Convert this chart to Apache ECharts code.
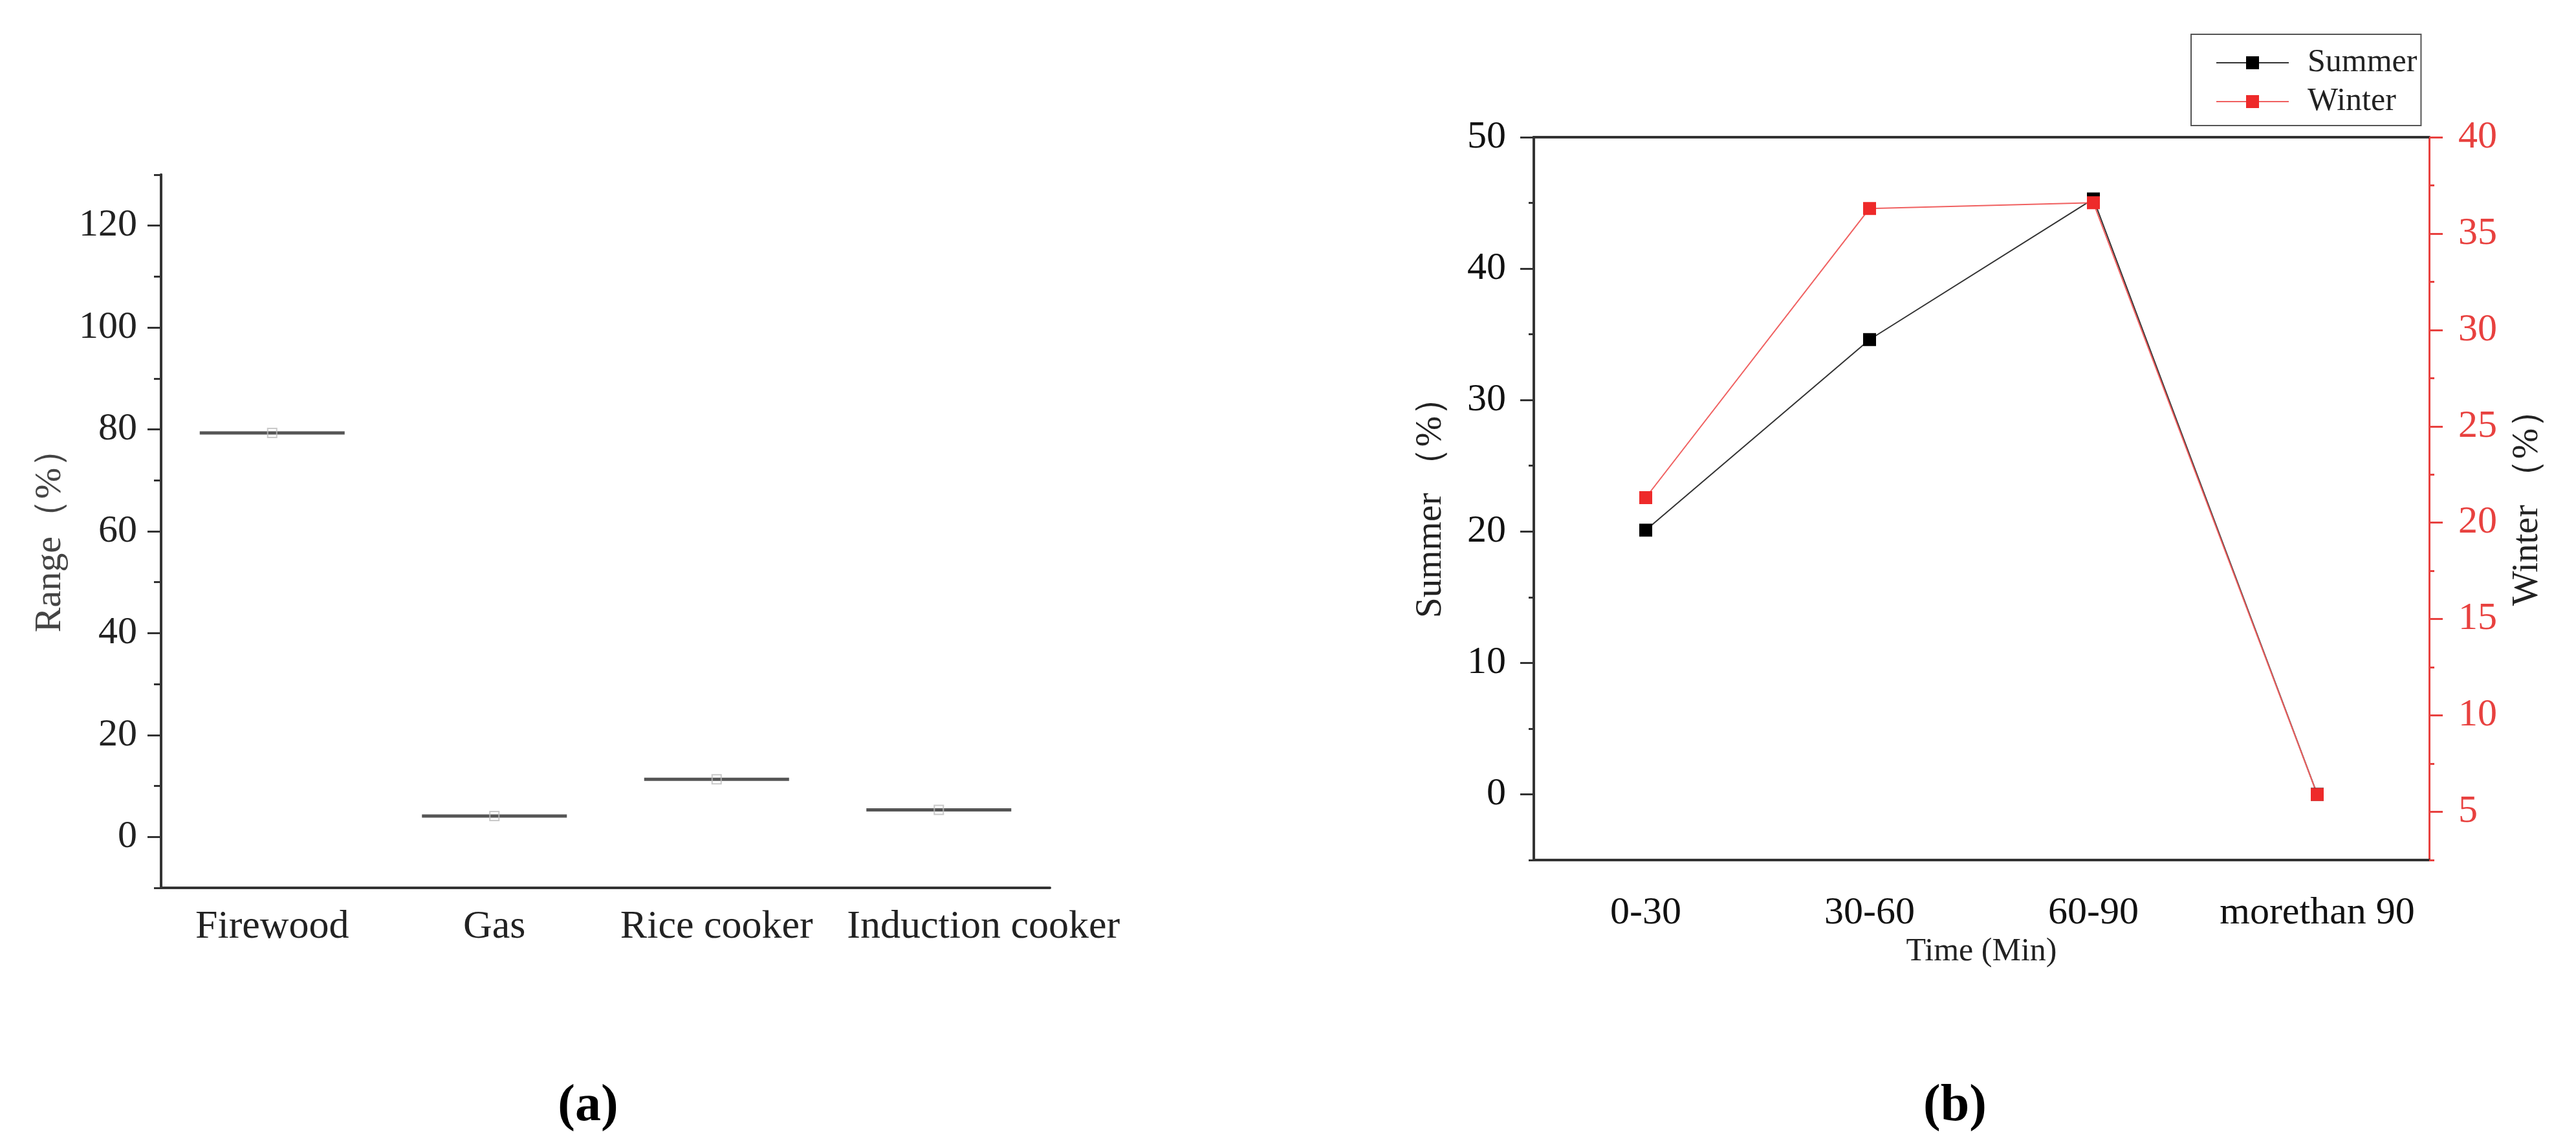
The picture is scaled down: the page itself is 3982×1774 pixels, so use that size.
<!DOCTYPE html>
<html><head><meta charset="utf-8">
<script src="https://cdn.jsdelivr.net/npm/echarts@6/dist/echarts.min.js"></script>
<style>html,body{margin:0;padding:0;background:#fff}#c{width:3982px;height:1774px}</style>
</head><body><div id="c"></div>
<script>
// ---- data (panel a) ----
const fuelCategories = ['Firewood', 'Gas', 'Rice cooker', 'Induction cooker'];
const rangeValues = [79.3, 4.1, 11.3, 5.3];
const rangeTickLabels = [0, 20, 40, 60, 80, 100, 120];
// ---- data (panel b) ----
const timeCategories = ['0-30', '30-60', '60-90', 'morethan 90'];
const summerValues = [20.1, 34.6, 45.3, 0];
const winterValues = [21.3, 36.3, 36.6, 5.9];
const summerTickLabels = [0, 10, 20, 30, 40, 50];
const winterTickLabels = [5, 10, 15, 20, 25, 30, 35, 40];

const F = 'Liberation Serif';
const dark = '#333';
const red = '#e8413f';

const chart = echarts.init(document.getElementById('c'));

const lineDark = { onZero: false, lineStyle: { color: dark, width: 4 } };
const tickStyle = c => ({ color: c, width: 3 });
const capRich = { p: { fontFamily: F, fontSize: 80, color: '#000' }, b: { fontFamily: F, fontSize: 80, fontWeight: 'bold', color: '#000' } };

const option = {
  animation: false,
  backgroundColor: '#fff',
  title: [
    { text: '{p|(}{b|a}{p|)}', left: 909, top: 1670, textAlign: 'center', padding: 0, textStyle: { rich: capRich } },
    { text: '{p|(}{b|b}{p|)}', left: 3022, top: 1670, textAlign: 'center', padding: 0, textStyle: { rich: capRich } }
  ],
  legend: {
    data: ['Summer', 'Winter'],
    orient: 'vertical', left: 3387, top: 53,
    borderColor: '#555', borderWidth: 2,
    padding: [19, 6, 12, 38],
    itemWidth: 112, itemHeight: 25, itemGap: 10,
    textStyle: { fontFamily: F, fontSize: 50, lineHeight: 50, color: '#222', padding: [0, 0, 0, 24] }
  },
  grid: [
    { left: 249, top: 270, width: 1374, height: 1102 },
    { left: 2371, top: 212, width: 1384, height: 1117 }
  ],
  xAxis: [
    { type: 'category', gridIndex: 0, data: fuelCategories, boundaryGap: true, position: 'bottom',
      axisLine: lineDark,
      axisTick: { alignWithLabel: true, length: 21, lineStyle: tickStyle(dark) },
      axisLabel: { fontFamily: F, fontSize: 62, color: '#222', margin: 30, interval: 0,
        formatter: v => v === 'Induction cooker' ? '{s|' + v + '}' : v,
        rich: { s: { fontFamily: F, fontSize: 62, color: '#222', padding: [0, 0, 0, 138] } } } },
    { type: 'category', gridIndex: 1, data: timeCategories, position: 'bottom', boundaryGap: true,
      axisLine: lineDark,
      axisTick: { length: 8, lineStyle: tickStyle(dark) },
      axisLabel: { show: false } },
    { type: 'category', gridIndex: 1, data: timeCategories, position: 'bottom', boundaryGap: true,
      axisLine: lineDark,
      axisTick: { alignWithLabel: true, length: 21, lineStyle: tickStyle(dark) },
      axisLabel: { fontFamily: F, fontSize: 60, color: '#111', margin: 52, interval: 0 },
      name: 'Time (Min)', nameLocation: 'middle', nameGap: 106,
      nameTextStyle: { fontFamily: F, fontSize: 50, color: '#222' } },
    { type: 'category', gridIndex: 1, data: timeCategories, position: 'top', boundaryGap: true,
      axisLine: lineDark,
      axisTick: { inside: true, length: 6, lineStyle: tickStyle(dark) },
      axisLabel: { show: false } },
    { type: 'category', gridIndex: 1, data: timeCategories, position: 'top', boundaryGap: true,
      axisLine: lineDark,
      axisTick: { inside: true, alignWithLabel: true, length: 10, lineStyle: tickStyle(dark) },
      axisLabel: { show: false } }
  ],
  yAxis: [
    { type: 'value', gridIndex: 0, position: 'left', min: -10, max: 130, interval: 10,
      axisLine: { show: true, lineStyle: { color: dark, width: 4 } },
      axisTick: { show: true, length: 11, lineStyle: tickStyle(dark) },
      axisLabel: { show: false }, splitLine: { show: false } },
    { type: 'value', gridIndex: 0, position: 'left', min: -10, max: 130, interval: 10,
      axisLine: { show: true, lineStyle: { color: dark, width: 4 } },
      axisTick: { show: true, length: 21, customValues: rangeTickLabels, lineStyle: tickStyle(dark) },
      axisLabel: { customValues: rangeTickLabels, fontFamily: F, fontSize: 60, color: '#222', margin: 37 },
      splitLine: { show: false },
      name: 'Range（%）', nameLocation: 'middle', nameRotate: 90, nameGap: 142,
      nameTextStyle: { fontFamily: F, fontSize: 58, color: '#444' } },
    { type: 'value', gridIndex: 1, position: 'left', min: -5, max: 50, interval: 5,
      axisLine: { show: true, lineStyle: { color: dark, width: 4 } },
      axisTick: { show: true, length: 8, lineStyle: tickStyle(dark) },
      axisLabel: { show: false }, splitLine: { show: false } },
    { type: 'value', gridIndex: 1, position: 'left', min: -5, max: 50, interval: 5,
      axisLine: { show: true, lineStyle: { color: dark, width: 4 } },
      axisTick: { show: true, length: 21, customValues: summerTickLabels, lineStyle: tickStyle(dark) },
      axisLabel: { customValues: summerTickLabels, fontFamily: F, fontSize: 60, color: '#111', margin: 43 },
      splitLine: { show: false },
      name: 'Summer （%）', nameLocation: 'middle', nameRotate: 90, nameGap: 130,
      nameTextStyle: { fontFamily: F, fontSize: 57, color: '#222' } },
    { type: 'value', gridIndex: 1, position: 'right', min: 2.5, max: 40, interval: 2.5,
      axisLine: { show: true, lineStyle: { color: red, width: 3 } },
      axisTick: { show: true, length: 8, lineStyle: tickStyle(red) },
      axisLabel: { show: false }, splitLine: { show: false } },
    { type: 'value', gridIndex: 1, position: 'right', min: 2.5, max: 40, interval: 2.5,
      axisLine: { show: true, lineStyle: { color: red, width: 3 } },
      axisTick: { show: true, length: 21, customValues: winterTickLabels, lineStyle: tickStyle(red) },
      axisLabel: { customValues: winterTickLabels, fontFamily: F, fontSize: 60, color: red, margin: 45 },
      splitLine: { show: false },
      name: 'Winter （%）', nameLocation: 'middle', nameRotate: 90, nameGap: 124,
      nameTextStyle: { fontFamily: F, fontSize: 57, color: '#222' } }
  ],
  series: [
    { type: 'boxplot', name: 'Range', xAxisIndex: 0, yAxisIndex: 1,
      data: rangeValues.map(v => [v, v, v, v, v]),
      boxWidth: [224, 224],
      itemStyle: { color: 'rgba(0,0,0,0)', borderColor: '#555', borderWidth: 5 } },
    { type: 'scatter', name: 'Mean', xAxisIndex: 0, yAxisIndex: 1,
      data: rangeValues, symbol: 'rect', symbolSize: 14,
      itemStyle: { color: 'rgba(255,255,255,0)', borderColor: '#bbb', borderWidth: 2 } },
    { type: 'line', name: 'Summer', xAxisIndex: 2, yAxisIndex: 3,
      data: summerValues, symbol: 'rect', symbolSize: 20,
      itemStyle: { color: '#000' }, lineStyle: { color: '#333', width: 2 } },
    { type: 'line', name: 'Winter', xAxisIndex: 2, yAxisIndex: 5,
      data: winterValues, symbol: 'rect', symbolSize: 20,
      itemStyle: { color: '#ee2a2a' }, lineStyle: { color: '#f06060', width: 2 } }
  ]
};
chart.setOption(option);
</script>
</body></html>
